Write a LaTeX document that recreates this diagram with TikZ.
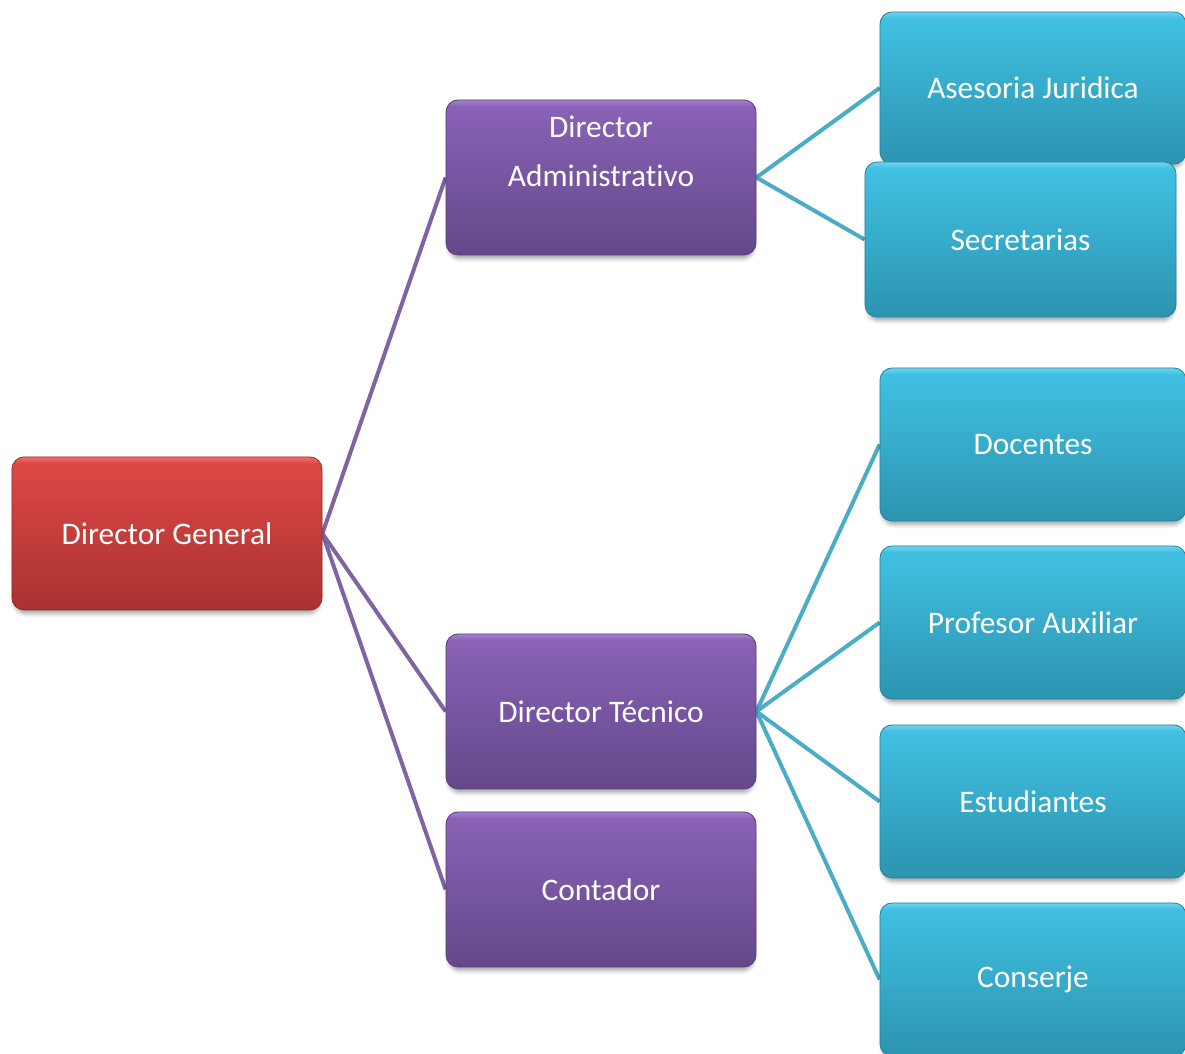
\documentclass[tikz,border=0pt]{standalone}
\usepackage{fontspec}
\setmainfont[Ligatures=NoCommon]{Carlito}
\usetikzlibrary{shadows.blur}

% palette
\definecolor{redtop}{RGB}{222,72,70}
\definecolor{redbot}{RGB}{168,50,48}
\definecolor{redhi}{RGB}{242,112,108}
\definecolor{rededge}{RGB}{150,42,40}
\definecolor{purtop}{RGB}{137,98,182}
\definecolor{purbot}{RGB}{100,72,138}
\definecolor{purhi}{RGB}{165,130,205}
\definecolor{puredge}{RGB}{88,62,122}
\definecolor{teatop}{RGB}{64,192,226}
\definecolor{teabot}{RGB}{44,148,176}
\definecolor{teahi}{RGB}{115,212,238}
\definecolor{teaedge}{RGB}{38,128,152}
\definecolor{purlink}{RGB}{128,100,162}
\definecolor{tealink}{RGB}{75,172,198}

% glossy vertical fills with a light band along the top edge
\pgfdeclareverticalshading{redglass}{100bp}{color(0bp)=(redbot); color(25bp)=(redbot); color(73bp)=(redtop); color(75bp)=(redhi); color(100bp)=(redhi)}
\pgfdeclareverticalshading{purglass}{100bp}{color(0bp)=(purbot); color(25bp)=(purbot); color(73bp)=(purtop); color(75bp)=(purhi); color(100bp)=(purhi)}
\pgfdeclareverticalshading{teaglass}{100bp}{color(0bp)=(teabot); color(25bp)=(teabot); color(73bp)=(teatop); color(75bp)=(teahi); color(100bp)=(teahi)}

\pgfdeclarelayer{links}
\pgfsetlayers{links,main}

\tikzset{
  box/.style={rounded corners=12bp, inner sep=0pt, text=white, align=center,
    minimum width=310bp, minimum height=155bp, line width=0.8bp,
    font=\fontsize{31.5}{49}\selectfont,
    blur shadow={shadow xshift=0bp, shadow yshift=-5bp, shadow scale=0.985,
      shadow blur radius=4bp, shadow opacity=35}},
  redbox/.style={box, shade, shading=redglass, draw=rededge},
  purbox/.style={box, shade, shading=purglass, draw=puredge},
  teabox/.style={box, shade, shading=teaglass, draw=teaedge, minimum width=306bp, minimum height=153bp},
  label/.style={text=white, align=center, inner sep=0pt, font=\fontsize{31.5}{49}\selectfont},
  purline/.style={draw=purlink, line width=4bp},
  tealine/.style={draw=tealink, line width=4bp},
}

\begin{document}
\begin{tikzpicture}[x=1bp, y=1bp]
  \useasboundingbox (0,0) rectangle (1185,1054);
  \clip (0,0) rectangle (1185,1054);

  % top of the hierarchy
  \node[redbox, minimum height=153bp] (dg) at (167,520.5) {Director General};

  % second level
  \node[purbox] (da) at (601,876.5) {};
  \node[label] (dat) at ([yshift=26bp]da.center) {Director\\Administrativo};
  \node[purbox] (dt) at (601,342.5) {Director Técnico};
  \node[purbox] (ct) at (601,164.5) {Contador};

  % third level
  \node[teabox, minimum height=152bp] (aj) at (1033,966) {Asesoria Juridica};
  \node[teabox, minimum width=311bp, minimum height=155bp] (se) at (1020.5,814.5) {Secretarias};
  \node[teabox] (do) at (1033,609.5) {Docentes};
  \node[teabox] (pa) at (1033,431.5) {Profesor Auxiliar};
  \node[teabox] (es) at (1033,252.5) {Estudiantes};
  \node[teabox] (cs) at (1033,74.5) {Conserje};

  % connectors
  \begin{pgfonlayer}{links}
    \draw[purline] (dg.east) -- (da.west);
    \draw[purline] (dg.east) -- (dt.west);
    \draw[purline] (dg.east) -- (ct.west);
    \draw[tealine] (da.east) -- (aj.west);
    \draw[tealine] (da.east) -- (se.west);
    \draw[tealine] (dt.east) -- (do.west);
    \draw[tealine] (dt.east) -- (pa.west);
    \draw[tealine] (dt.east) -- (es.west);
    \draw[tealine] (dt.east) -- (cs.west);
  \end{pgfonlayer}
\end{tikzpicture}
\end{document}
